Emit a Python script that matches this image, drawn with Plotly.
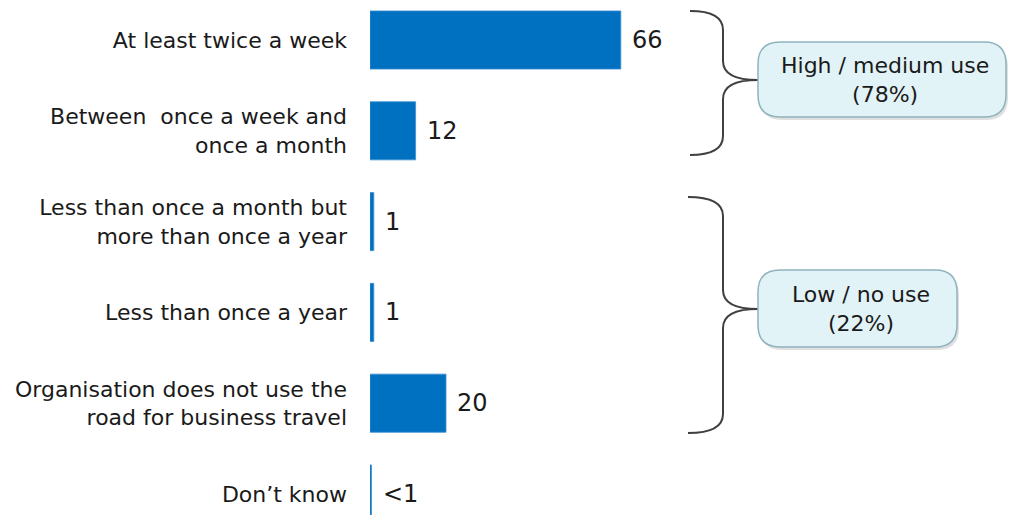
import plotly.graph_objects as go

# Survey responses: how often the organisation uses the road for business travel (%)
categories = [
    "At least twice a week",
    "Between  once a week and<br>once a month",
    "Less than once a month but<br>more than once a year",
    "Less than once a year",
    "Organisation does not use the<br>road for business travel",
    "Don\u2019t know",
]
values = [66, 12, 1, 1, 20, 0.4]
value_labels = ["66", "12", "1", "1", "20", "<1"]

group_labels = ["High / medium use<br>(78%)", "Low / no use<br>(22%)"]

W, H = 1012, 515
ML = 370          # left margin (room for category labels)
PX_PER_UNIT = 3.8
ROW_H = 90.8
FIRST_ROW_Y = 40

BAR_COLOR = "#0070C0"
TEXT_COLOR = "#1a1a1a"
FONT = "DejaVu Sans"


def px(x):
    return (x - ML) / (W - ML)


def py(y):
    return 1 - y / H


def path(cmds):
    out = []
    for c in cmds:
        op, pts = c[0], c[1:]
        coords = " ".join(f"{px(pts[i]):.5f},{py(pts[i + 1]):.5f}" for i in range(0, len(pts), 2))
        out.append(f"{op} {coords}".strip())
    return " ".join(out)


def rounded_rect(x0, y0, x1, y1, r):
    return path([
        ("M", x0 + r, y0), ("L", x1 - r, y0), ("Q", x1, y0, x1, y0 + r),
        ("L", x1, y1 - r), ("Q", x1, y1, x1 - r, y1),
        ("L", x0 + r, y1), ("Q", x0, y1, x0, y1 - r),
        ("L", x0, y0 + r), ("Q", x0, y0, x0 + r, y0), ("Z",),
    ])


def brace(x_end, x_mid, x_tip, y_top, y_tip, y_bot, k=19):
    return path([
        ("M", x_end, y_top), ("Q", x_mid, y_top, x_mid, y_top + k),
        ("L", x_mid, y_tip - k), ("Q", x_mid, y_tip, x_tip, y_tip),
        ("Q", x_mid, y_tip, x_mid, y_tip + k),
        ("L", x_mid, y_bot - k), ("Q", x_mid, y_bot, x_end, y_bot),
    ])


fig = go.Figure(
    go.Bar(
        x=values,
        y=categories,
        orientation="h",
        marker=dict(color=BAR_COLOR, line=dict(color="#3d8fd1", width=0.8)),
        hoverinfo="skip",
    )
)

# value labels to the right of each bar
for cat, v, lab in zip(categories, values, value_labels):
    fig.add_annotation(
        x=v, y=cat, text=lab, showarrow=False, xanchor="left", yanchor="middle",
        xshift=9, font=dict(family=FONT, size=24, color=TEXT_COLOR),
    )

shapes = []
# braces grouping the rows
shapes.append(dict(type="path", xref="paper", yref="paper",
                   path=brace(690, 723, 758, 11, 80, 155),
                   line=dict(color="#404040", width=2)))
shapes.append(dict(type="path", xref="paper", yref="paper",
                   path=brace(688, 723, 758, 197, 309, 433),
                   line=dict(color="#404040", width=2)))

# callout boxes
boxes = [(758, 42, 1006, 117), (758, 270, 957, 347)]
for (x0, y0, x1, y1), lab in zip(boxes, group_labels):
    shapes.append(dict(type="path", xref="paper", yref="paper",
                       path=rounded_rect(x0 + 2, y0 + 3, x1 + 2, y1 + 3, 22),
                       fillcolor="rgba(0,0,0,0.12)", line=dict(width=0)))
    shapes.append(dict(type="path", xref="paper", yref="paper",
                       path=rounded_rect(x0, y0, x1, y1, 22),
                       fillcolor="#e2f3f7", line=dict(color="#8fb3bd", width=1.5)))
    fig.add_annotation(
        xref="paper", yref="paper", x=px((x0 + x1) / 2 + 3), y=py((y0 + y1) / 2),
        text=lab, showarrow=False, xanchor="center", yanchor="middle",
        font=dict(family=FONT, size=22, color=TEXT_COLOR),
    )

top = -FIRST_ROW_Y / ROW_H
bottom = top + H / ROW_H

fig.update_layout(
    width=W, height=H,
    margin=dict(l=ML, r=0, t=0, b=0, autoexpand=False),
    paper_bgcolor="white", plot_bgcolor="white",
    bargap=0.36,
    showlegend=False,
    shapes=shapes,
    xaxis=dict(range=[0, (W - ML) / PX_PER_UNIT], visible=False, fixedrange=True),
    yaxis=dict(
        range=[bottom, top], showgrid=False, zeroline=False, showline=False,
        ticks="", ticklabelstandoff=22, automargin=False,
        tickfont=dict(family=FONT, size=22, color=TEXT_COLOR),
    ),
)

fig.write_html("out.html")
